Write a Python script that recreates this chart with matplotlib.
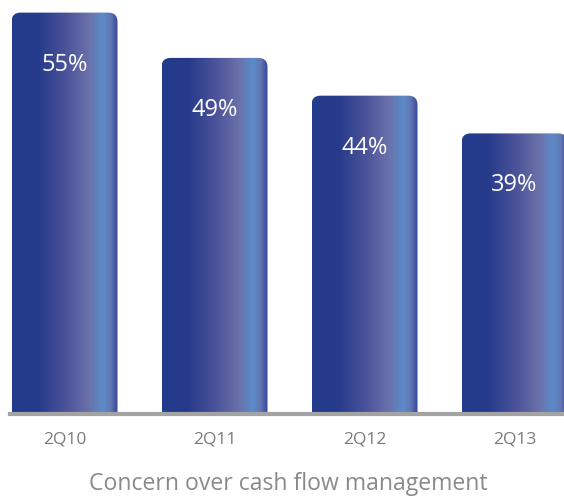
import numpy as np
import matplotlib.pyplot as plt
from matplotlib.colors import LinearSegmentedColormap
from matplotlib.patches import FancyBboxPatch

quarters = ['2Q10', '2Q11', '2Q12', '2Q13']
values = [55, 49, 44, 39]
labels = ['55%', '49%', '44%', '39%']
title = 'Concern over cash flow management'

# gradient across each bar, dark navy -> lavender -> light blue -> dark edge
grad = LinearSegmentedColormap.from_list('bar', [
    (0.00, '#243a8a'), (0.25, '#263b8b'), (0.50, '#4a5299'),
    (0.72, '#6a70a9'), (0.86, '#5b8bc9'), (0.93, '#6477b4'),
    (1.00, '#34469a')])

fig = plt.figure(figsize=(5.64, 4.99), dpi=100)
ax = fig.add_axes([0, 87 / 499, 1, 412 / 499])
px_x = 150.0   # pixels per category step
px_y = 7.55    # pixels per percent
y0 = 2.1       # the bars do not start at zero in the original
ax.axis('off')

width = 106 / px_x
r = 9 / px_x
aspect = (9 / px_y) / r
ramp = np.linspace(0, 1, 256).reshape(1, -1)

for i, (v, lab) in enumerate(zip(values, labels)):
    x0 = i - width / 2
    box = FancyBboxPatch((x0, y0 - 5), width, v - y0 + 5,
                         boxstyle=f'round,pad=0,rounding_size={r}',
                         mutation_aspect=aspect, facecolor='none',
                         edgecolor='none', transform=ax.transData)
    ax.add_patch(box)
    im = ax.imshow(ramp, cmap=grad, aspect='auto',
                   extent=(x0, x0 + width, y0 - 5, v), zorder=2)
    im.set_clip_path(box)
    ax.text(i, v - 52 / px_y, lab, ha='center', va='center',
            color='white', fontsize=17, family='Open Sans', zorder=3)

ax.set_xlim(-64.5 / px_x, (564 - 64.5) / px_x)
ax.set_ylim(y0, y0 + 412 / px_y)
ax.axhline(y0 - 1.5 / px_y, xmin=10 / 564, xmax=1, color='#a3a3a3',
           lw=3, clip_on=False, zorder=4)

for i, q in enumerate(quarters):
    fig.text((64.5 + px_x * i) / 564, 1 - 440 / 499, q, ha='center',
             va='center', color='#7a7a7a', fontsize=12.5, family='Open Sans')

fig.text(288 / 564, 1 - 484 / 499, title, ha='center', va='center',
         color='#8a8a8a', fontsize=16.6, family='Open Sans')

fig.savefig('out.png', dpi=100)
